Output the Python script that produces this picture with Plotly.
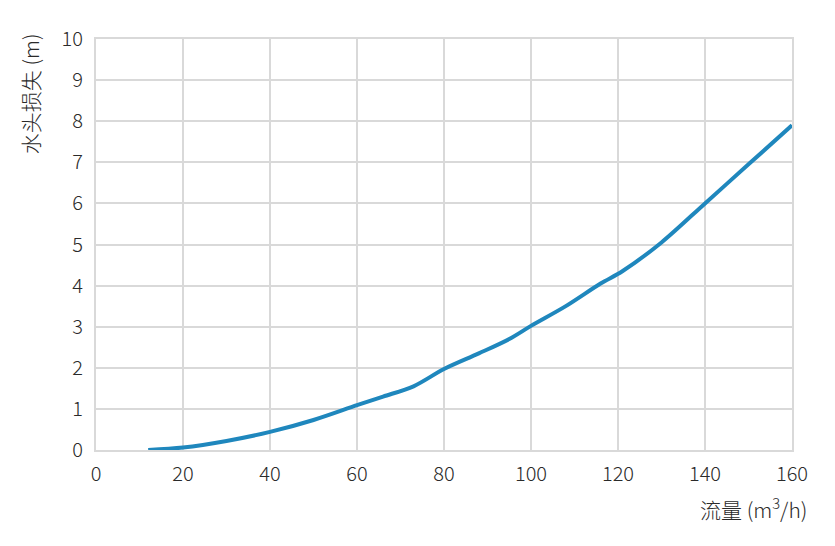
import plotly.graph_objects as go

flow = [12, 20, 30, 40, 50, 60, 66, 73, 80, 88, 95, 100, 108, 116, 121, 130, 140, 150, 160]
head_loss = [0.0, 0.06, 0.22, 0.44, 0.73, 1.09, 1.3, 1.55, 1.97, 2.35, 2.7, 3.02, 3.5, 4.05, 4.35, 5.05, 6.0, 6.95, 7.9]

x_ticks = [0, 20, 40, 60, 80, 100, 120, 140, 160]
y_ticks = list(range(0, 11))

x_title = "流量 (m<sup>3</sup>/h)"
y_title = "水头损失 (m)"

font_fam = "Noto Sans CJK SC, Noto Sans, sans-serif"
txt_c = "#2a2a2a"
grid_c = "#d9d9d9"

fig = go.Figure()
fig.add_trace(go.Scatter(
    x=flow, y=head_loss, mode="lines",
    line=dict(color="#1f87bd", width=4, shape="spline", smoothing=0.9),
    hoverinfo="skip", showlegend=False,
))

fig.update_layout(
    width=835, height=546,
    margin=dict(l=88, r=51, t=31, b=104),
    paper_bgcolor="white", plot_bgcolor="white",
    font=dict(family=font_fam, size=20, color=txt_c, weight=300),
    xaxis=dict(range=[0, 160], tickvals=x_ticks, showgrid=True, gridcolor=grid_c, gridwidth=2,
               showline=True, linecolor=grid_c, linewidth=2, mirror=True, zeroline=False,
               ticks="", ticklen=0, ticklabelstandoff=5),
    yaxis=dict(range=[0, 10], tickvals=y_ticks, showgrid=True, gridcolor=grid_c, gridwidth=2,
               showline=True, linecolor=grid_c, linewidth=2, mirror=True, zeroline=False,
               ticks="", ticklen=0, ticklabelstandoff=7),
    annotations=[
        dict(text=x_title, xref="paper", yref="paper", x=1.025, y=-0.097,
             xanchor="right", yanchor="top", showarrow=False,
             font=dict(size=21, color=txt_c, weight=300)),
        dict(text=y_title, xref="paper", yref="paper", x=-0.095, y=1.02,
             xanchor="center", yanchor="top", textangle=-90, showarrow=False,
             font=dict(size=21, color=txt_c, weight=300)),
    ],
)

fig.write_html("out.html")
